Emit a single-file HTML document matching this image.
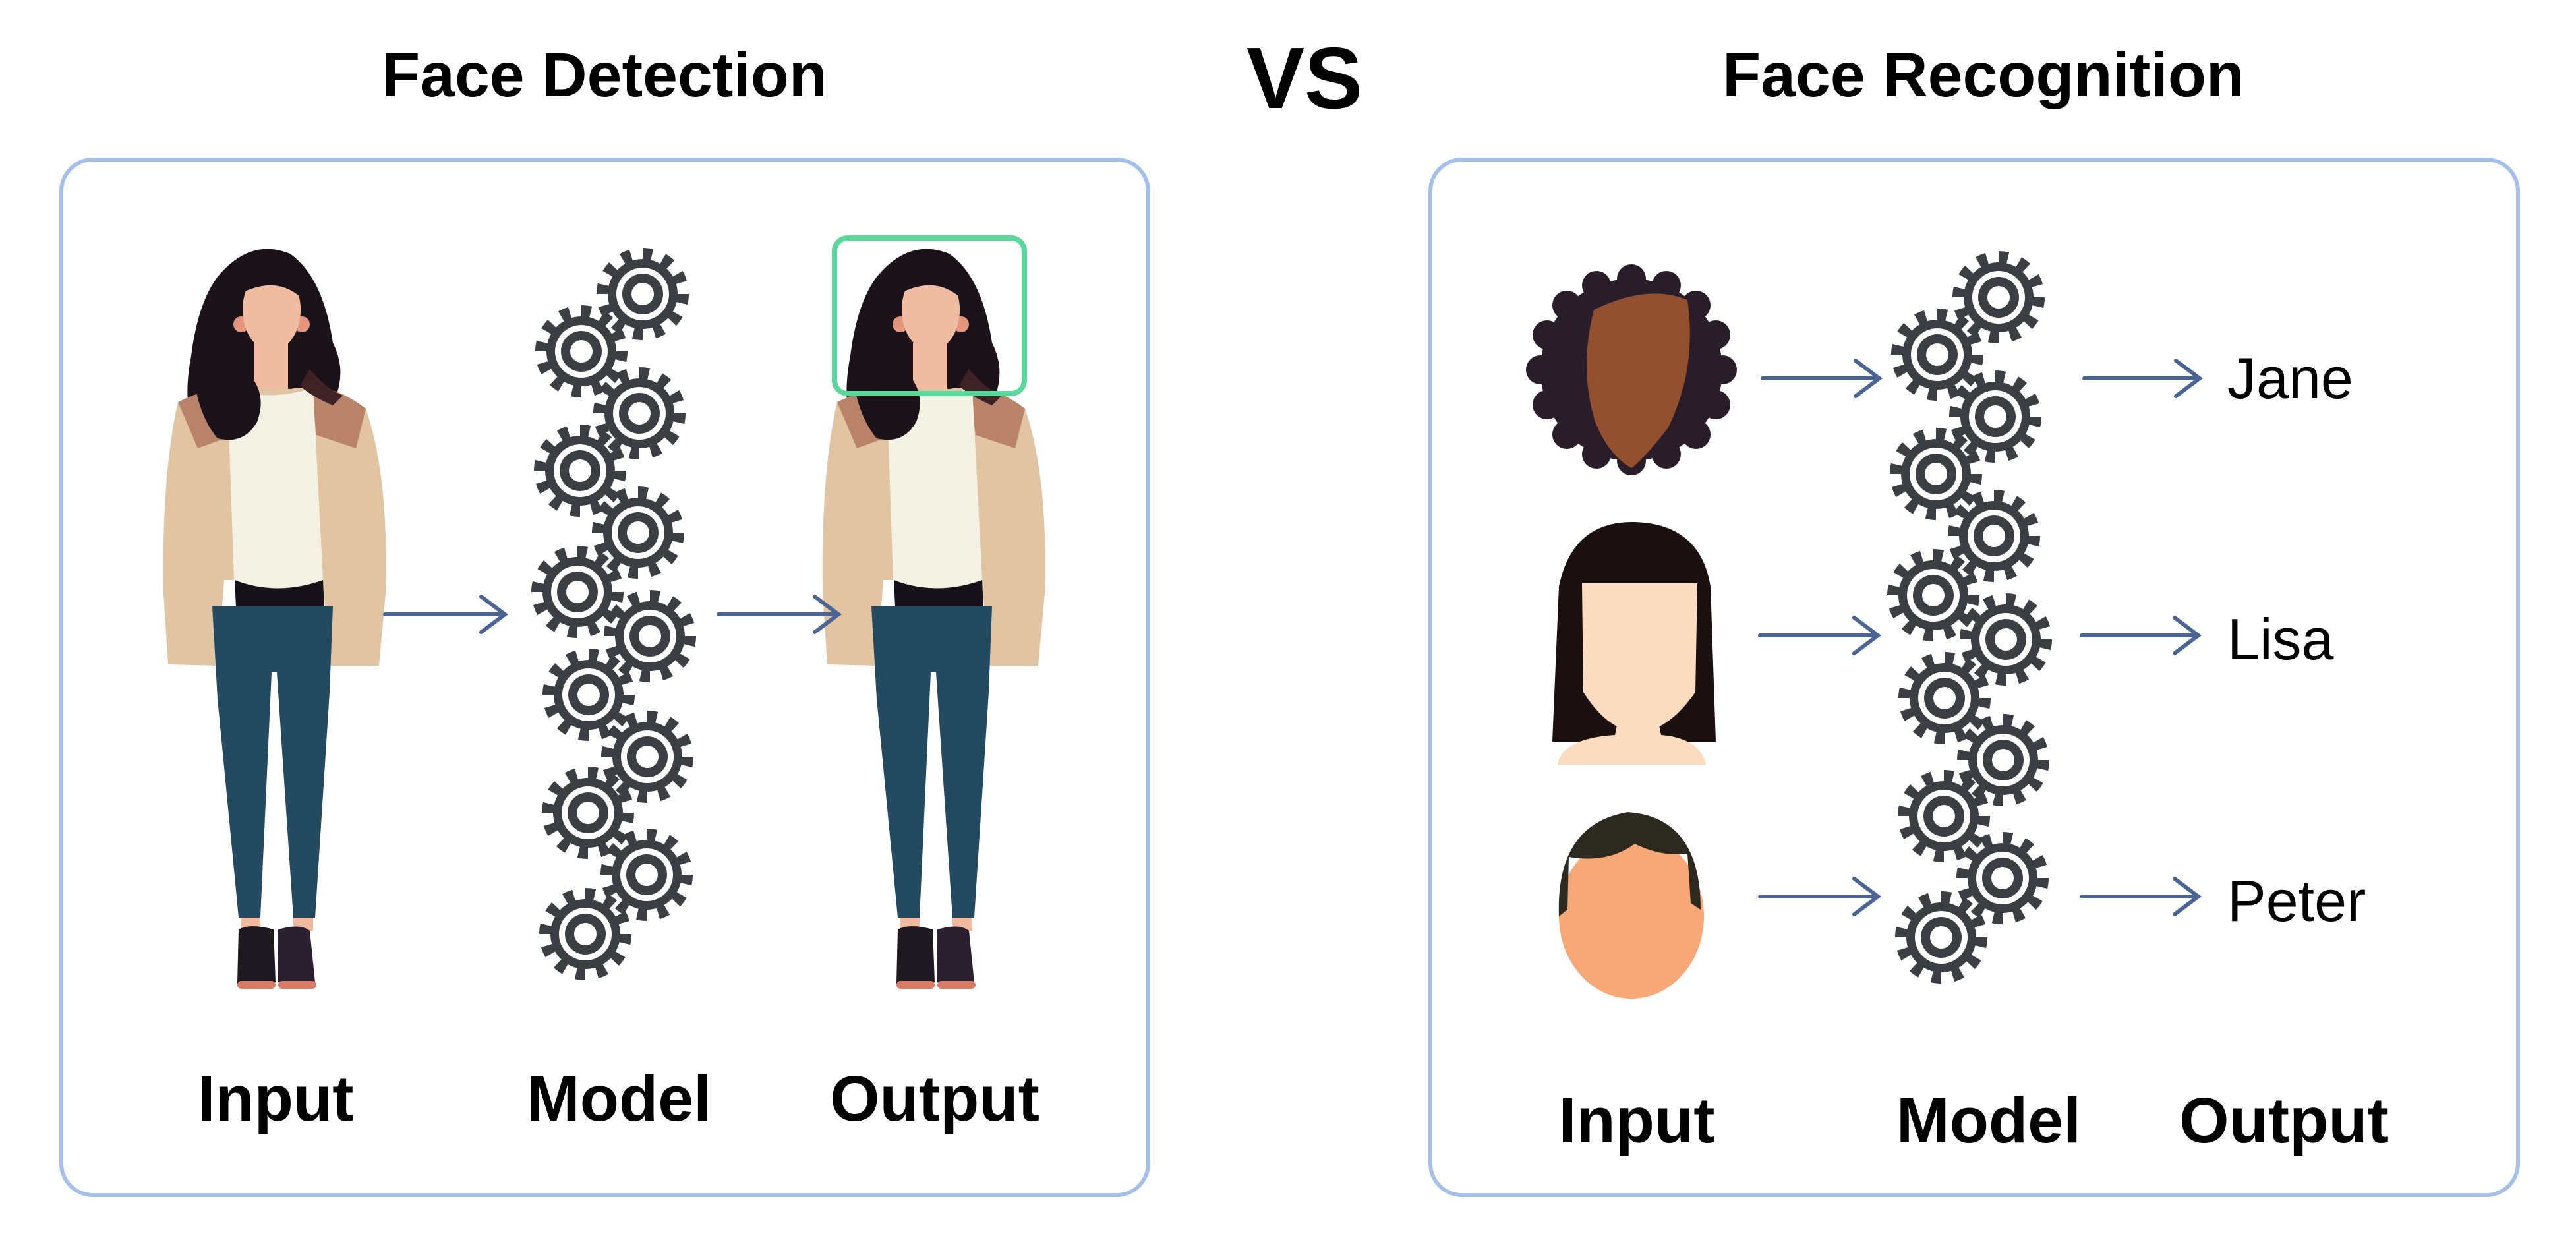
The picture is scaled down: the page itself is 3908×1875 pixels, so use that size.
<!DOCTYPE html>
<html><head><meta charset="utf-8"><style>
html,body{margin:0;padding:0;background:#fff;}
svg{display:block;}
text{font-family:"Liberation Sans",sans-serif;fill:#000;}
</style></head><body>
<svg width="3908" height="1875" viewBox="0 0 3908 1875" xmlns="http://www.w3.org/2000/svg">
<defs>
<g id="gear">
<circle r="60" fill="none" stroke="#3b3f44" stroke-width="20" stroke-dasharray="14 17.4"/>
<circle r="53" fill="#3b3f44"/>
<circle r="40" fill="#fff"/>
<circle r="31" fill="#3b3f44"/>
<circle r="17" fill="#fff"/>
</g>
<g id="gears">
<use href="#gear" x="975" y="446"/>
<use href="#gear" x="882" y="533"/>
<use href="#gear" x="970" y="627"/>
<use href="#gear" x="880" y="714"/>
<use href="#gear" x="968" y="808"/>
<use href="#gear" x="876" y="898"/>
<use href="#gear" x="986" y="965"/>
<use href="#gear" x="893" y="1054"/>
<use href="#gear" x="982" y="1148"/>
<use href="#gear" x="892" y="1233"/>
<use href="#gear" x="981" y="1327"/>
<use href="#gear" x="888" y="1417"/>
</g>
<g id="woman">
<path d="M330 420 Q380 360 440 385 Q490 420 505 520 Q525 560 510 600 Q530 640 500 650 L300 650 Q275 620 290 540 Q300 460 330 420Z" fill="#1c1219"/>
<rect x="385" y="520" width="52" height="80" fill="#efbba1"/>
<path d="M270 610 Q330 580 380 590 L440 590 Q500 580 555 620 Q590 720 585 900 L575 1010 L500 1010 L490 880 L340 880 L330 1010 L255 1008 L248 900 Q245 720 270 610Z" fill="#e1c4a1"/>
<path d="M270 610 Q320 585 360 590 L355 660 L300 680 Z M555 620 Q510 585 470 588 L480 660 L540 680 Z" fill="#b98369"/>
<path d="M345 590 Q410 610 475 588 L490 880 Q420 905 355 880 Z" fill="#f4f1e5"/>
<path d="M356 880 Q420 905 490 880 L492 920 L358 920Z" fill="#15121a"/>
<path d="M322 920 L505 920 L500 1050 L478 1392 L445 1392 L420 1020 L412 1020 L395 1392 L362 1392 L330 1060Z" fill="#234a60"/>
<rect x="365" y="1392" width="30" height="20" fill="#efbba1"/>
<rect x="445" y="1392" width="30" height="20" fill="#efbba1"/>
<path d="M362 1410 Q380 1400 415 1410 L418 1490 Q390 1505 360 1492Z" fill="#1e1820"/>
<path d="M422 1410 Q455 1400 470 1412 L478 1490 Q450 1505 422 1490Z" fill="#2a2030"/>
<rect x="360" y="1488" width="58" height="12" rx="6" fill="#d87c68"/>
<rect x="422" y="1488" width="58" height="12" rx="6" fill="#d87c68"/>
<path d="M292 560 Q300 630 330 665 Q370 675 390 640 Q405 600 380 570 L355 520Z" fill="#1c1219"/>
<path d="M470 560 Q495 590 520 600 L505 615 Q470 600 455 585Z" fill="#3e2226"/>
<ellipse cx="412" cy="470" rx="44" ry="62" fill="#efbba1"/>
<circle cx="366" cy="492" r="12" fill="#e3967c"/>
<circle cx="458" cy="492" r="12" fill="#e3967c"/>
<ellipse cx="412" cy="470" rx="44" ry="62" fill="#efbba1"/>
<path d="M368 435 Q390 395 440 405 Q458 420 455 450 Q420 420 372 442Z" fill="#1c1219"/>
</g>
<g id="curl"><circle r="22" fill="#2a1d2a"/></g>
</defs>

<text x="917" y="146" font-size="95" font-weight="bold" text-anchor="middle">Face Detection</text>
<text x="1979" y="164" font-size="132" font-weight="bold" text-anchor="middle">VS</text>
<text x="3009" y="146" font-size="95" font-weight="bold" text-anchor="middle">Face Recognition</text>

<rect x="93" y="242" width="1649" height="1571" rx="48" fill="none" stroke="#a4bfe8" stroke-width="6"/>
<rect x="2170" y="242" width="1650" height="1571" rx="48" fill="none" stroke="#a4bfe8" stroke-width="6"/>

<use href="#woman"/>
<use href="#woman" x="1000"/>
<rect x="1266" y="361" width="288" height="236" rx="20" fill="none" stroke="#5ad79a" stroke-width="8"/>
<use href="#gears"/>

<g stroke="#4a6494" stroke-width="6" fill="none" stroke-linecap="round">
<line x1="584" y1="932" x2="766" y2="932"/><polyline points="730,905 766,932 730,959"/>
<line x1="1090" y1="932" x2="1272" y2="932"/><polyline points="1236,905 1272,932 1236,959"/>
<line x1="2674" y1="574" x2="2851" y2="574"/><polyline points="2815,547 2851,574 2815,601"/>
<line x1="3162" y1="574" x2="3337" y2="574"/><polyline points="3301,547 3337,574 3301,601"/>
<line x1="2670" y1="964" x2="2849" y2="964"/><polyline points="2813,937 2849,964 2813,991"/>
<line x1="3158" y1="964" x2="3335" y2="964"/><polyline points="3299,937 3335,964 3299,991"/>
<line x1="2670" y1="1360" x2="2849" y2="1360"/><polyline points="2813,1333 2849,1360 2813,1387"/>
<line x1="3158" y1="1360" x2="3335" y2="1360"/><polyline points="3299,1333 3335,1360 3299,1387"/>
</g>

<text x="418" y="1700" font-size="97" font-weight="bold" text-anchor="middle">Input</text>
<text x="939" y="1700" font-size="97" font-weight="bold" text-anchor="middle">Model</text>
<text x="1418" y="1700" font-size="97" font-weight="bold" text-anchor="middle">Output</text>

<use href="#gears" x="2057" y="5"/>

<!-- Jane -->
<circle cx="2475" cy="561" r="138" fill="#2a1d2a"/>
<g transform="translate(2475 561)">
<use href="#curl" x="138" y="0"/><use href="#curl" x="128" y="53"/><use href="#curl" x="98" y="98"/><use href="#curl" x="53" y="128"/>
<use href="#curl" x="0" y="138"/><use href="#curl" x="-53" y="128"/><use href="#curl" x="-98" y="98"/><use href="#curl" x="-128" y="53"/>
<use href="#curl" x="-138" y="0"/><use href="#curl" x="-128" y="-53"/><use href="#curl" x="-98" y="-98"/><use href="#curl" x="-53" y="-128"/>
<use href="#curl" x="0" y="-138"/><use href="#curl" x="53" y="-128"/><use href="#curl" x="98" y="-98"/><use href="#curl" x="128" y="-53"/>
</g>
<path d="M2418 470 Q2500 430 2560 455 Q2575 560 2530 650 Q2490 700 2475 710 Q2440 690 2420 640 Q2395 560 2418 470Z" fill="#93502e"/>
<!-- Lisa -->
<path d="M2355 1125 L2365 890 Q2385 790 2480 792 Q2580 795 2595 890 L2603 1125Z" fill="#1a1010"/>
<path d="M2400 885 L2575 885 L2572 1050 Q2530 1110 2485 1110 Q2440 1110 2402 1050Z" fill="#fbdcc0"/>
<path d="M2455 1090 L2515 1090 L2520 1115 Q2580 1120 2588 1160 L2363 1160 Q2370 1120 2450 1115Z" fill="#fbdcc0"/>
<!-- Peter -->
<ellipse cx="2475" cy="1390" rx="110" ry="125" fill="#f7a878"/>
<path d="M2365 1390 Q2360 1250 2470 1232 Q2580 1240 2580 1380 L2565 1370 L2560 1295 Q2520 1300 2480 1280 Q2440 1310 2380 1300 L2378 1380Z" fill="#2c2a1e"/>

<text x="3379" y="604" font-size="88">Jane</text>
<text x="3379" y="1000" font-size="88">Lisa</text>
<text x="3379" y="1397" font-size="88">Peter</text>

<text x="2483" y="1733" font-size="97" font-weight="bold" text-anchor="middle">Input</text>
<text x="3017" y="1733" font-size="97" font-weight="bold" text-anchor="middle">Model</text>
<text x="3465" y="1733" font-size="97" font-weight="bold" text-anchor="middle">Output</text>
</svg>
</body></html>
